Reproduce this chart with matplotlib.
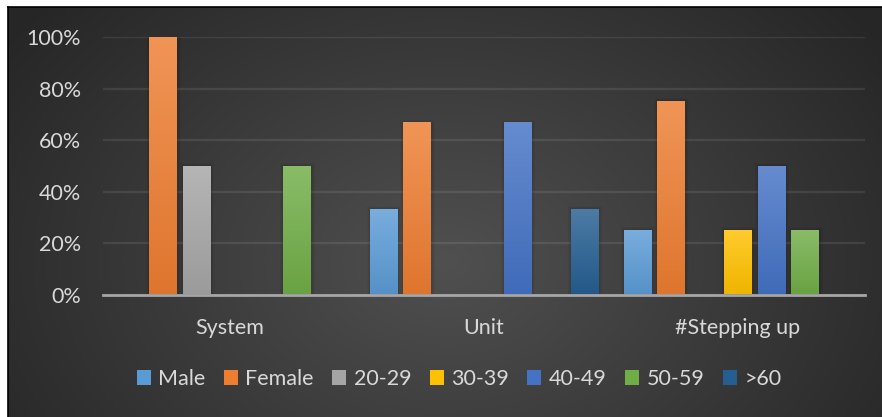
import numpy as np
import matplotlib.pyplot as plt
from matplotlib.colors import to_rgb
from matplotlib.patches import Rectangle

plt.rcParams['font.family'] = ['Lato', 'DejaVu Sans']

categories = ["System", "Unit", "#Stepping up"]
series = ["Male", "Female", "20-29", "30-39", "40-49", "50-59", ">60"]
values = {
    "Male":   [0.00, 0.333, 0.25],
    "Female": [1.00, 0.667, 0.75],
    "20-29":  [0.50, 0.00, 0.00],
    "30-39":  [0.00, 0.00, 0.25],
    "40-49":  [0.00, 0.667, 0.50],
    "50-59":  [0.50, 0.00, 0.25],
    ">60":    [0.00, 0.333, 0.00],
}
colors = ["#5B9BD5", "#ED7D31", "#A5A5A5", "#FFC000", "#4472C4", "#70AD47", "#255E91"]
yticks = [0, 0.2, 0.4, 0.6, 0.8, 1.0]

text_col = "#D9D9D9"
fs = 15.5

fig = plt.figure(figsize=(8.82, 4.17), dpi=100)
fig.patch.set_facecolor("white")

# dark radial background of the chart area
bg = fig.add_axes([8 / 882, 0, 874 / 882, 410 / 417])
ny, nx = 205, 437
yy, xx = np.mgrid[0:ny, 0:nx]
cx, cy = nx * 0.50, ny * 0.62
d = np.sqrt(((xx - cx) / (nx * 0.62)) ** 2 + ((yy - cy) / (ny * 0.95)) ** 2)
d = np.clip(d, 0, 1)
c_in = np.array(to_rgb("#505050"))
c_out = np.array(to_rgb("#262626"))
img = c_in[None, None, :] * (1 - d[..., None]) + c_out[None, None, :] * d[..., None]
bg.imshow(img, aspect="auto", extent=(0, 1, 0, 1), origin="upper", interpolation="bilinear")
bg.set_xlim(0, 1)
bg.set_ylim(0, 1)
bg.set_xticks([])
bg.set_yticks([])
for side in ["right", "bottom"]:
    bg.spines[side].set_visible(False)
for side in ["left", "top"]:
    bg.spines[side].set_color("black")
    bg.spines[side].set_linewidth(1.2)

ax = fig.add_axes([103 / 882, (417 - 295) / 417, 762 / 882, 258 / 417])
ax.set_facecolor("none")

step = 33.5 / 254
width = 28 / 254
x = np.arange(len(categories))


def mix(c, other, t):
    c = np.array(to_rgb(c))
    return c * (1 - t) + np.array(other) * t


for i, name in enumerate(series):
    base = colors[i]
    top = mix(base, (1, 1, 1), 0.18)
    bot = mix(base, (0, 0, 0), 0.06)
    grad = np.linspace(0, 1, 64)[:, None, None]
    col = top[None, None, :] * (1 - grad) + bot[None, None, :] * grad
    for j, v in enumerate(values[name]):
        if v <= 0:
            continue
        x0 = x[j] + (i - 3) * step - width / 2
        # soft shadow around the bar
        for k, a in enumerate([0.05, 0.04, 0.03]):
            grow = (k + 1) * 0.008
            ax.add_patch(Rectangle((x0 - grow / 2 + 0.002, 0), width + grow, v + grow * 0.5,
                                   facecolor="black", alpha=a, lw=0, zorder=2))
        ax.imshow(col, extent=(x0, x0 + width, 0.004, v), aspect="auto", origin="upper",
                  zorder=3, interpolation="bilinear")

ax.set_xlim(-0.5, 2.5)
ax.set_ylim(0, 1.0)

ax.set_yticks(yticks)
ax.set_yticklabels([f"{int(round(t * 100))}%" for t in yticks])
ax.set_xticks(x)
ax.set_xticklabels(categories)
ax.tick_params(axis="y", length=0, pad=16, labelsize=fs, labelcolor=text_col)
ax.tick_params(axis="x", length=0, pad=16.5, labelsize=fs, labelcolor=text_col)
ax.grid(axis="y", color="white", alpha=0.09, linewidth=1.6)
ax.set_axisbelow(True)
for side in ["top", "right", "left"]:
    ax.spines[side].set_visible(False)
ax.spines["bottom"].set_color("#A6A6A6")
ax.spines["bottom"].set_linewidth(2)
ax.spines["bottom"].set_zorder(4)

handles = [Rectangle((0, 0), 1, 1, facecolor=c, lw=0) for c in colors]
leg = fig.legend(handles, series, loc="center", bbox_to_anchor=(459 / 882, 1 - 379 / 417),
                 ncol=7, frameon=False, fontsize=fs, labelcolor=text_col,
                 handlelength=0.65, handleheight=0.65, handletextpad=0.35, columnspacing=0.85)

fig.savefig("out.png", dpi=100)
